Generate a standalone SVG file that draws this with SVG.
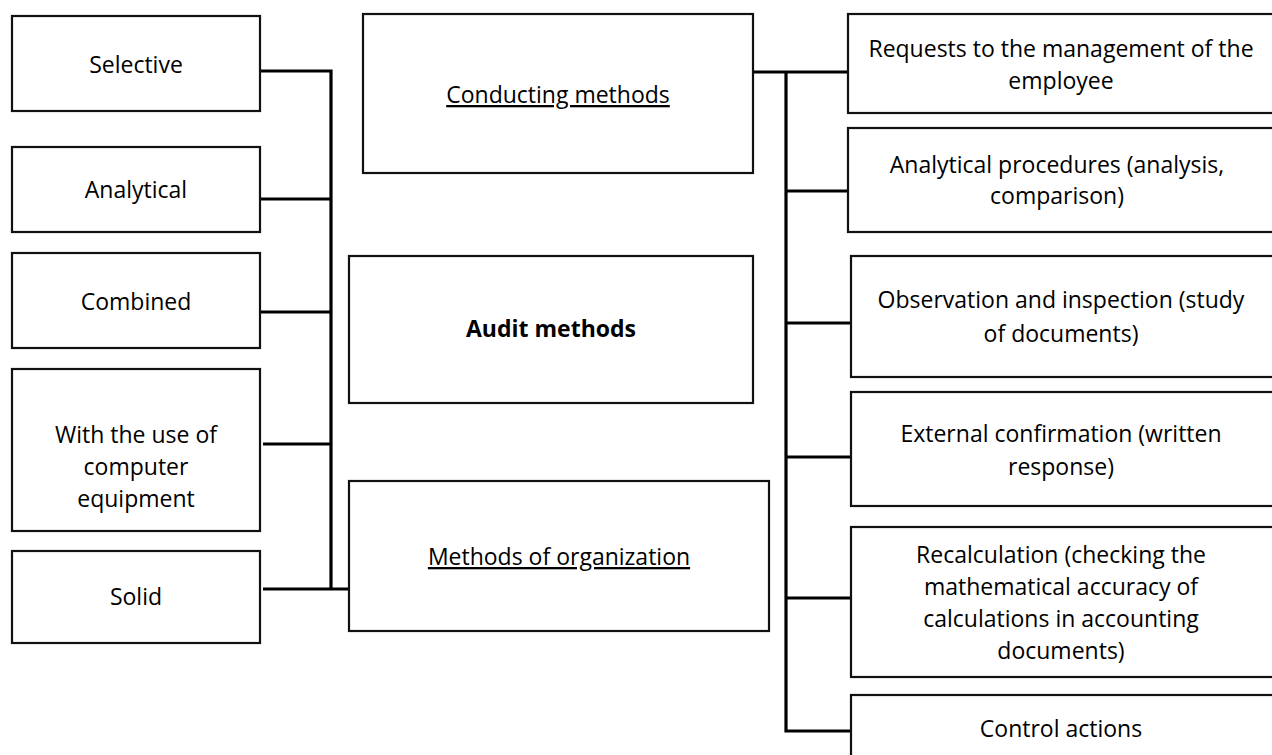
<svg xmlns="http://www.w3.org/2000/svg" width="1272" height="755" viewBox="0 0 1272 755">
<style>
.box{fill:#fff;stroke:#111;stroke-width:2.2}
.t{font-family:"Open Sans","Noto Sans",sans-serif;font-size:23px;fill:#000;text-anchor:middle}
.b{font-weight:bold}
.u{text-decoration:underline}
.c{stroke:#000;stroke-width:3.2;fill:none;stroke-linecap:butt}
</style>
<rect width="1272" height="755" fill="#fff"/>
<g id="connectors">
<path class="c" d="M260 71H331M331 69.4V590.6M260 199H331M260 312H331M263 444H331M263 589H349"/>
<path class="c" d="M753 72H848M786 70.4V732.6M786 191H848M786 323H851M786 457H851M786 598H851M786 731H851"/>
</g>
<g id="selective"><rect class="box" x="12" y="16" width="248" height="95"/><text class="t" x="136" y="73">Selective</text></g>
<g id="analytical"><rect class="box" x="12" y="147" width="248" height="85"/><text class="t" x="136" y="198">Analytical</text></g>
<g id="combined"><rect class="box" x="12" y="253" width="248" height="95"/><text class="t" x="136" y="310">Combined</text></g>
<g id="computer"><rect class="box" x="12" y="369" width="248" height="162"/><text class="t" x="136" y="443">With the use of</text><text class="t" x="136" y="475">computer</text><text class="t" x="136" y="507">equipment</text></g>
<g id="solid"><rect class="box" x="12" y="551" width="248" height="92"/><text class="t" x="136" y="605">Solid</text></g>
<g id="conducting"><rect class="box" x="363" y="14" width="390" height="159"/><text class="t u" x="558" y="103">Conducting methods</text></g>
<g id="audit"><rect class="box" x="349" y="256" width="404" height="147"/><text class="t b" x="551" y="337">Audit methods</text></g>
<g id="organization"><rect class="box" x="349" y="481" width="420" height="150"/><text class="t u" x="559" y="565">Methods of organization</text></g>
<g id="requests"><rect class="box" x="848" y="14" width="430" height="99"/><text class="t" x="1061" y="57">Requests to the management of the</text><text class="t" x="1061" y="89">employee</text></g>
<g id="procedures"><rect class="box" x="848" y="128" width="430" height="104"/><text class="t" x="1057" y="173">Analytical procedures (analysis,</text><text class="t" x="1057" y="204">comparison)</text></g>
<g id="observation"><rect class="box" x="851" y="256" width="430" height="121"/><text class="t" x="1061" y="308">Observation and inspection (study</text><text class="t" x="1061" y="342">of documents)</text></g>
<g id="external"><rect class="box" x="851" y="392" width="430" height="114"/><text class="t" x="1061" y="442">External confirmation (written</text><text class="t" x="1061" y="475">response)</text></g>
<g id="recalculation"><rect class="box" x="851" y="527" width="430" height="150"/><text class="t" x="1061" y="563">Recalculation (checking the</text><text class="t" x="1061" y="595">mathematical accuracy of</text><text class="t" x="1061" y="627">calculations in accounting</text><text class="t" x="1061" y="659">documents)</text></g>
<g id="control"><rect class="box" x="851" y="695" width="430" height="80"/><text class="t" x="1061" y="737">Control actions</text></g>
</svg>
